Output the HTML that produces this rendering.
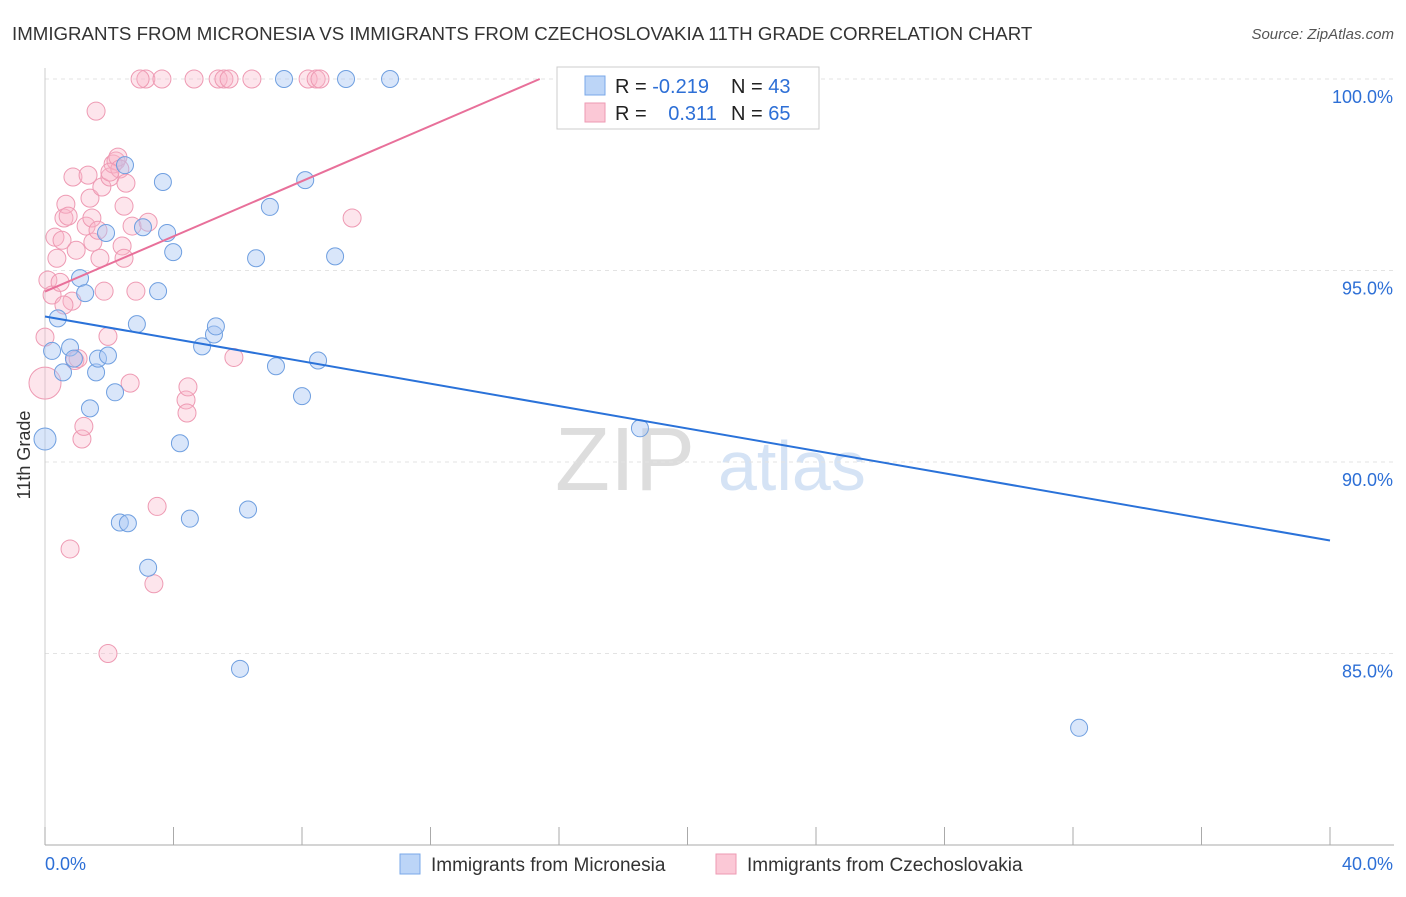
<!DOCTYPE html>
<html><head><meta charset="utf-8"><style>
body{margin:0;background:#fff;font-family:"Liberation Sans",sans-serif;}
svg text{font-family:"Liberation Sans",sans-serif;}
</style></head><body>
<svg id="chart" width="1406" height="892" xmlns="http://www.w3.org/2000/svg">
<text x="12" y="40" font-size="18.7" fill="#333">IMMIGRANTS FROM MICRONESIA VS IMMIGRANTS FROM CZECHOSLOVAKIA 11TH GRADE CORRELATION CHART</text>
<text x="1394" y="39" font-size="15" fill="#555" text-anchor="end" font-style="italic">Source: ZipAtlas.com</text>
<text x="30" y="455" font-size="18" fill="#333" text-anchor="middle" transform="rotate(-90 30 455)">11th Grade</text>
<text x="555" y="490" font-size="90" fill="#ddd" font-family="Liberation Serif">ZIP</text>
<text x="718" y="490" font-size="70" fill="#d5e3f5">atlas</text>
<g id="grid"></g><g id="axes"></g><g id="pts"></g><g id="lines"></g>
<g>
<rect x="557" y="67" width="262" height="62" fill="#fff" stroke="#ccc"/>
<rect x="585" y="76" width="20" height="19" fill="#bcd5f7" stroke="#7aa8e8"/>
<rect x="585" y="103" width="20" height="19" fill="#fbc8d6" stroke="#ee9ab3"/>
<text x="615" y="93" font-size="20" fill="#222">R = <tspan fill="#2d6fd6">-0.219</tspan></text>
<text x="731" y="93" font-size="20" fill="#222">N = <tspan fill="#2d6fd6">43</tspan></text>
<text x="615" y="120" font-size="20" fill="#222">R = <tspan fill="#2d6fd6" dx="16">0.311</tspan></text>
<text x="731" y="120" font-size="20" fill="#222">N = <tspan fill="#2d6fd6">65</tspan></text>
</g>
<g>
<rect x="400" y="854" width="20" height="20" fill="#bcd5f7" stroke="#7aa8e8"/>
<text x="431" y="871" font-size="19" fill="#333">Immigrants from Micronesia</text>
<rect x="716" y="854" width="20" height="20" fill="#fbc8d6" stroke="#ee9ab3"/>
<text x="747" y="871" font-size="19" fill="#333">Immigrants from Czechoslovakia</text>
</g>
</svg>
<script>
const xTicks=[0,4,8,12,16,20,24,28,32,36,40];
const yTicks=[85,90,95,100];
const yTickLabels=["85.0%","90.0%","95.0%","100.0%"];
const blueX=[0,0.22,0.4,0.56,0.78,0.9,1.09,1.25,1.4,1.59,1.65,1.96,1.9,2.18,2.33,2.49,2.58,2.86,3.05,3.21,3.52,3.67,3.8,3.99,4.2,4.51,4.89,5.26,5.32,6.07,6.32,6.57,7.0,7.19,8.0,8.1,8.5,9.03,9.37,10.74,7.44,18.52,32.19];
const blueY=[90.6,92.9,93.75,92.34,92.99,92.7,94.8,94.41,91.4,92.34,92.7,92.78,95.98,91.82,88.42,97.75,88.4,93.6,96.13,87.24,94.46,97.31,95.98,95.48,90.49,88.52,93.02,93.33,93.54,84.6,88.76,95.32,96.66,92.5,91.72,97.36,92.65,95.37,100,100,100,90.88,83.06];
const pinkX=[0,0,0.09,0.22,0.31,0.37,0.47,0.53,0.59,0.65,0.72,0.78,0.84,0.87,0.93,0.97,1.03,1.15,1.21,1.34,1.4,1.28,1.46,1.49,1.59,1.71,1.77,1.84,1.96,1.96,2.02,2.12,2.21,2.27,2.33,2.4,2.46,2.46,2.52,2.65,2.71,2.83,3.14,3.21,3.39,3.49,3.64,4.39,4.45,4.42,4.64,5.39,5.57,5.73,5.88,6.44,8.19,8.44,8.56,9.56,18.15,2.02,1.65,0.59,2.96];
const pinkY=[92.06,93.26,94.75,94.36,95.87,95.32,94.69,95.79,96.37,96.73,96.42,87.73,94.2,97.44,92.65,95.53,92.7,90.6,90.93,97.49,96.89,96.16,96.37,95.74,99.16,95.32,97.18,94.46,93.28,85.0,97.44,97.78,97.86,97.96,97.65,95.64,95.32,96.68,97.28,92.06,96.16,94.46,100,96.26,86.82,88.84,100,91.62,91.96,91.28,100,100,100,100,92.73,100,100,100,100,96.37,100,97.57,96.05,94.1,100];
const blueLine=[[0,93.8],[40,87.95]];
const pinkLine=[[0,94.45],[15.4,100]];
const X0=45,X1=1330,Y0=79,Y1=845;
const sx=v=>X0+(v/40)*(X1-X0);
const sy=v=>Y0+(100-v)/20*(Y1-Y0);
const NS="http://www.w3.org/2000/svg";
function mk(t,a,p){const e=document.createElementNS(NS,t);for(const k in a)e.setAttribute(k,a[k]);p.appendChild(e);return e;}
const grid=document.getElementById('grid'),axes=document.getElementById('axes'),pts=document.getElementById('pts'),lines=document.getElementById('lines');
yTicks.forEach((t,i)=>{
 const l=mk('line',{x1:X0,x2:1394,y1:sy(t),y2:sy(t),stroke:'#e3e3e3','stroke-dasharray':'4,4'},grid);
 
 
 const tx=mk('text',{x:1393,y:sy(t)+24,'font-size':18,fill:'#2d6fd6','text-anchor':'end'},axes);
 tx.textContent=yTickLabels[i];
 
 
});
const xa=mk('line',{x1:X0,x2:1394,y1:Y1,y2:Y1,stroke:'#aaa'},axes);


const ya=mk('line',{x1:X0,x2:X0,y1:68,y2:Y1,stroke:'#ccc'},axes);


xTicks.forEach(t=>{
 const l=mk('line',{x1:sx(t),x2:sx(t),y1:Y1,y2:Y1-18,stroke:'#aaa'},axes);
 
 
});
[[0,"0.0%","start",45],[40,"40.0%","end",1393]].forEach(d=>{
 const tx=mk('text',{x:d[3],y:870,'font-size':18,fill:'#2d6fd6','text-anchor':d[2]},axes);
 tx.textContent=d[1];
 
 
});
pinkX.forEach((v,i)=>{
 const r=(i===0)?16:9;
 const c=mk('circle',{cx:sx(v),cy:sy(pinkY[i]),r:r,fill:'rgba(248,180,200,0.35)',stroke:'#ee9ab3','stroke-width':1},pts);
 
 
});
blueX.forEach((v,i)=>{
 const r=(i===0)?11:8.5;
 const c=mk('circle',{cx:sx(v),cy:sy(blueY[i]),r:r,fill:'rgba(170,200,245,0.45)',stroke:'#6f9fe0','stroke-width':1},pts);
 
 
});
const bl=mk('line',{x1:sx(blueLine[0][0]),y1:sy(blueLine[0][1]),x2:sx(blueLine[1][0]),y2:sy(blueLine[1][1]),stroke:'#2a72d9','stroke-width':2},lines);


const pl=mk('line',{x1:sx(pinkLine[0][0]),y1:sy(pinkLine[0][1]),x2:sx(pinkLine[1][0]),y2:sy(pinkLine[1][1]),stroke:'#e8709a','stroke-width':2},lines);


</script>
</body></html>
